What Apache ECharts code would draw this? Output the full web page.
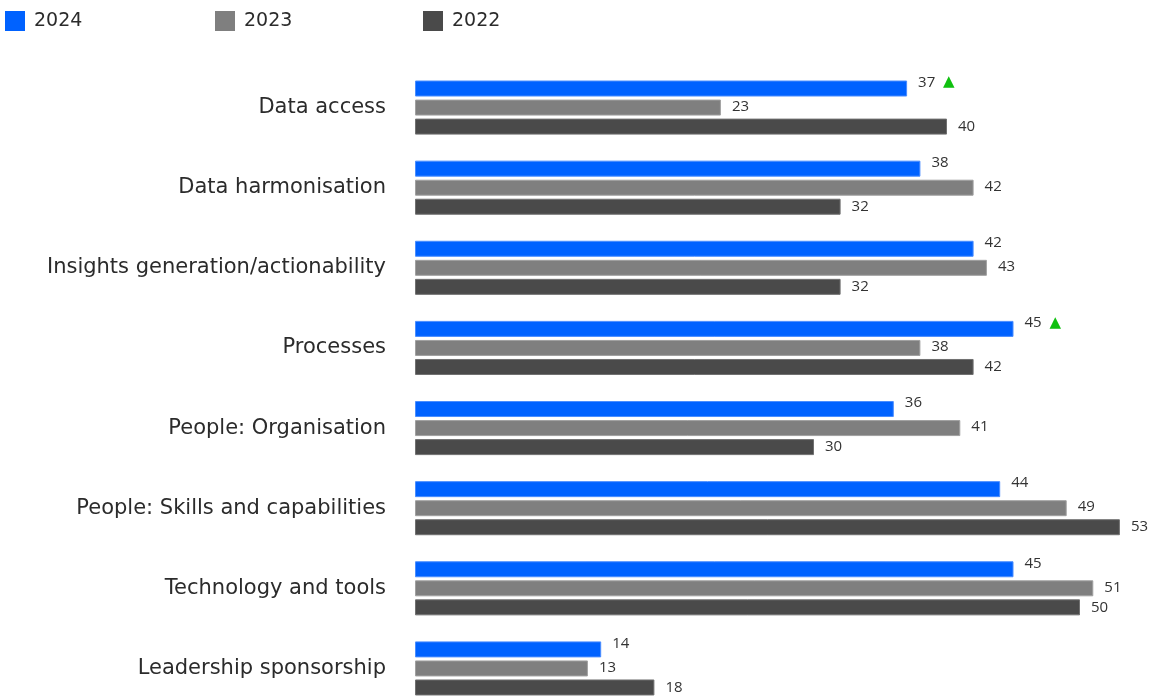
<!DOCTYPE html>
<html>
<head>
<meta charset="utf-8">
<title>Barriers by year</title>
<script src="https://cdn.jsdelivr.net/npm/echarts@6/dist/echarts.min.js"></script>
<style>
  html, body { margin: 0; padding: 0; background: #ffffff; }
  #chart { width: 1157px; height: 698px; }
</style>
</head>
<body>
<div id="chart"></div>
<script>
// Categories, top to bottom
const categories = [
  'Data access',
  'Data harmonisation',
  'Insights generation/actionability',
  'Processes',
  'People: Organisation',
  'People: Skills and capabilities',
  'Technology and tools',
  'Leadership sponsorship'
];

// Years shown in the legend
const years = ['2024', '2023', '2022'];

// Share of respondents per year
const values2024 = [37, 38, 42, 45, 36, 44, 45, 14];
const values2023 = [23, 42, 43, 38, 41, 49, 51, 13];
const values2022 = [40, 32, 32, 42, 30, 53, 50, 18];

// Items flagged with an upward marker in 2024
const rising2024 = [true, false, false, true, false, false, false, false];

const FONT = '"DejaVu Sans", "Open Sans", sans-serif';
const LABEL_FONT = '"Open Sans", "Noto Sans", sans-serif';

const labelBase = {
  show: true,
  position: 'right',
  distance: 11,
  color: '#333333',
  fontFamily: LABEL_FONT,
  fontSize: 15,
  fontWeight: 500
};

function makeSeries(name, data, color, border, extraLabel) {
  return {
    name: name,
    type: 'bar',
    data: data,
    barWidth: 16,
    barGap: '19%',
    itemStyle: { color: color, borderColor: border, borderWidth: 1 },
    label: Object.assign({}, labelBase, extraLabel || {}),
    emphasis: { disabled: true },
    animation: false
  };
}

// One legend block per year, spaced evenly along the top
function makeLegend(name, left) {
  return {
    left: left,
    top: 11,
    padding: 0,
    itemWidth: 20,
    itemHeight: 20,
    itemGap: 0,
    icon: 'rect',
    itemStyle: { borderWidth: 0 },
    textStyle: {
      fontFamily: FONT,
      fontSize: 19,
      color: '#2b2b2b',
      padding: [0, 0, 0, 4]
    },
    data: [name]
  };
}

const chart = echarts.init(document.getElementById('chart'), null, { renderer: 'canvas' });

chart.setOption({
  backgroundColor: '#ffffff',
  animation: false,
  legend: [
    makeLegend(years[0], 5),
    makeLegend(years[1], 215),
    makeLegend(years[2], 423)
  ],
  grid: {
    left: 415,
    top: 67.5,
    width: 731.5,
    height: 641,
    containLabel: false,
    outerBoundsMode: 'none'
  },
  xAxis: {
    type: 'value',
    min: 0,
    max: 55,
    show: false
  },
  yAxis: {
    type: 'category',
    data: categories,
    inverse: true,
    axisLine: { show: false },
    axisTick: { show: false },
    splitLine: { show: false },
    axisLabel: {
      margin: 29,
      fontFamily: FONT,
      fontSize: 21,
      color: '#2b2b2b'
    }
  },
  series: [
    makeSeries(years[0], values2024, '#0062ff', '#4a8dff', {
      offset: [0, -6],
      formatter: function (p) {
        return rising2024[p.dataIndex] ? p.value + '  {up|▲}' : String(p.value);
      },
      rich: {
        up: { color: '#10c010', fontSize: 15, fontFamily: 'DejaVu Sans' }
      }
    }),
    makeSeries(years[1], values2023, '#7f7f7f', '#a0a0a0', { offset: [0, -1] }),
    makeSeries(years[2], values2022, '#4a4a4a', '#707070')
  ]
});
</script>
</body>
</html>
